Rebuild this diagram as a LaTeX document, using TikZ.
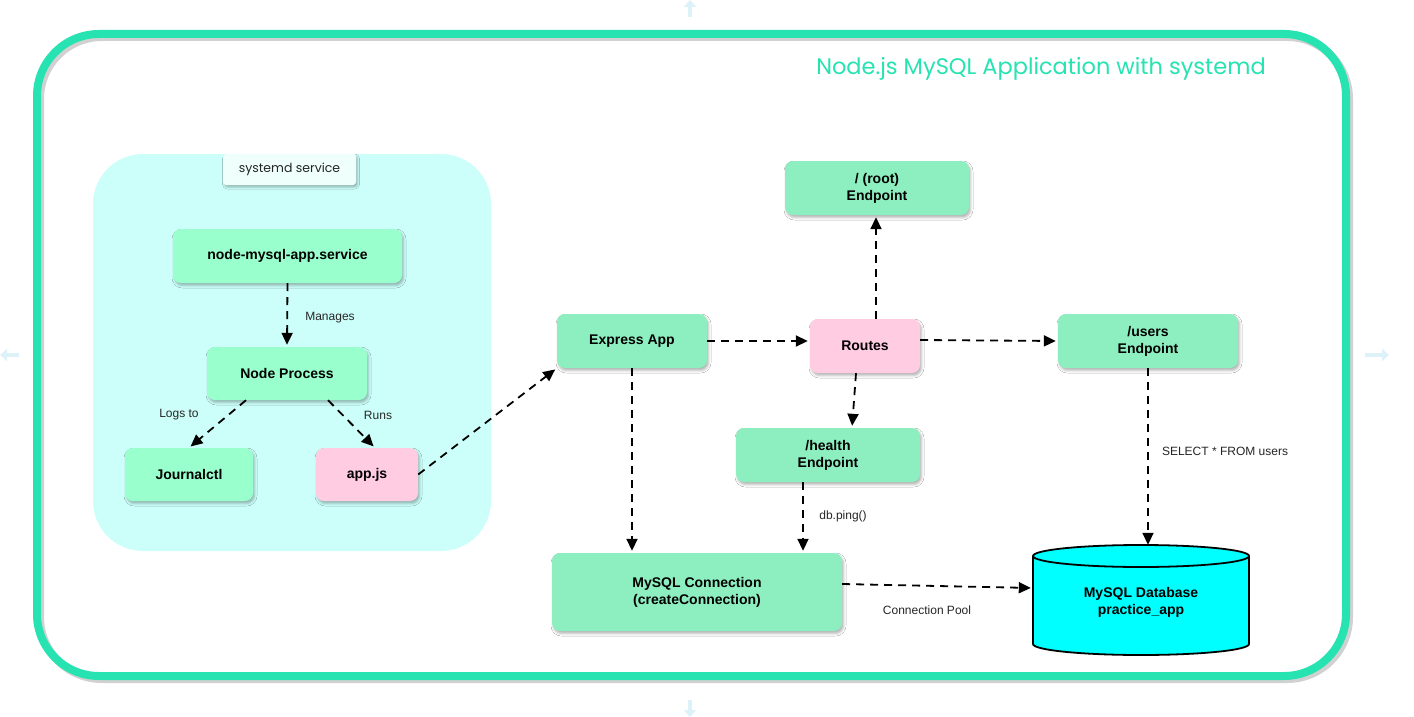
\documentclass[tikz,border=0pt]{standalone}
\usepackage{fontspec}
\setmainfont{Liberation Sans}
\newfontfamily\handfont{Poppins}
\usetikzlibrary{arrows.meta,shadows.blur,calc}
\definecolor{framec}{HTML}{27E3B1}
\definecolor{grpfill}{HTML}{CCFFFA}
\definecolor{lblfill}{HTML}{EEFFFC}
\definecolor{brightgreen}{HTML}{99FFCC}
\definecolor{softgreen}{HTML}{8DEEC0}
\definecolor{pinkfill}{HTML}{FFCCE2}
\definecolor{faintc}{HTML}{DDF1F8}
\definecolor{dbcyan}{HTML}{00FFFF}
\begin{document}
\begin{tikzpicture}[x=1pt,y=-1pt,
  box/.style={rectangle, rounded corners=8pt, draw=none, align=center,
    font=\fontsize{14}{17}\selectfont\bfseries, text=black, inner sep=0pt,
    blur shadow={shadow xshift=1.5pt,shadow yshift=-2.5pt,shadow blur radius=2.5pt,shadow opacity=30}},
  gbox/.style={box, fill=softgreen},
  bbox/.style={box, fill=brightgreen},
  pbox/.style={box, fill=pinkfill},
  flow/.style={draw=black, line width=1.8pt, dash pattern=on 8pt off 6pt,
    -{Triangle[length=12pt,width=11pt]}, shorten >=2pt},
  lbl/.style={font=\fontsize{12}{14}\selectfont, text=black!85, inner sep=0pt},
  faintarrow/.style={draw=faintc, line width=4pt, -{Triangle[length=7pt,width=12pt]}}
]
\useasboundingbox (0,0) rectangle (1414,717);
\fill[white] (0,0) rectangle (1414,717);

% faint hover arrows
\coordinate (tA) at (690,17); \coordinate (tB) at (690,0);
\coordinate (bA) at (690,700); \coordinate (bB) at (690,717);
\coordinate (lA) at (19,355); \coordinate (lB) at (0,355);
\coordinate (rA) at (1365,355); \coordinate (rB) at (1389,355);
\draw[faintarrow] (tA) -- (tB);
\draw[faintarrow] (bA) -- (bB);
\draw[faintarrow] (lA) -- (lB);
\draw[faintarrow] (rA) -- (rB);

% outer frame
\draw[black!18, line width=8pt, rounded corners=62pt] (40,37) rectangle (1349,679);
\draw[framec, line width=8pt, rounded corners=62pt] (37,34) rectangle (1346,676);
\node[font=\handfont\fontsize{22.5}{26}\selectfont, text=framec] (title) at (1041,69) {Node.js MySQL Application with systemd};

% systemd group
\node[rectangle, rounded corners=50pt, fill=grpfill, minimum width=398pt, minimum height=397pt, inner sep=0pt] (grp) at (292,352.5) {};
\node[rectangle, rounded corners=3pt, fill=lblfill, minimum width=133pt, minimum height=31pt, inner sep=0pt,
  font=\handfont\fontsize{12.5}{14}\selectfont, text=black!85,
  blur shadow={shadow xshift=1.5pt,shadow yshift=-2pt,shadow blur radius=2pt,shadow opacity=30}] (grplbl) at (289.5,169.5) {systemd service};

\node[bbox, minimum width=229pt, minimum height=54pt] (svc) at (287.5,256) {node-mysql-app.service};
\node[bbox, minimum width=160pt, minimum height=53pt] (proc) at (287,373.5) {Node Process};
\node[bbox, minimum width=128pt, minimum height=53pt] (journal) at (189,474.5) {Journalctl};
\node[pbox, minimum width=102pt, minimum height=53pt] (appjs) at (367,474.5) {app.js};

% right side
\node[gbox, minimum width=150pt, minimum height=54pt] (express) at (632,341) {Express App};
\node[pbox, minimum width=110pt, minimum height=54pt] (routes) at (865,346) {Routes};
\node[gbox, minimum width=184pt, minimum height=54pt] (root) at (877,188) {/ (root)\\Endpoint};
\node[gbox, minimum width=180pt, minimum height=54pt] (users) at (1148,341) {/users\\Endpoint};
\node[gbox, minimum width=184pt, minimum height=54pt] (health) at (828,455) {/health\\Endpoint};
\node[gbox, minimum width=290pt, minimum height=78pt] (conn) at (697,592) {MySQL Connection\\(createConnection)};

% database cylinder
\path[fill=dbcyan] (1033,556) -- (1033,644) arc[start angle=180, end angle=0, x radius=108, y radius=11] -- (1249,556) -- cycle;
\draw[black, line width=1.8pt] (1033,556) -- (1033,644) arc[start angle=180, end angle=0, x radius=108, y radius=11] -- (1249,556);
\draw[black, line width=1.8pt, fill=dbcyan] (1141,556) ellipse[x radius=108, y radius=11];
\node[font=\fontsize{14}{17}\selectfont\bfseries, text=black, align=center, minimum width=216pt, minimum height=110pt, inner sep=0pt] (db) at (1141,602) {MySQL Database\\practice\_app};

% connectors
\draw[flow] (svc.south) -- (proc.north);
\node[lbl] (lmanages) at (330,318) {Manages};
\draw[flow] ([xshift=-41pt]proc.south) -- (journal.north);
\node[lbl] (llogs) at (179,415) {Logs to};
\draw[flow] ([xshift=41pt]proc.south) -- ([xshift=8pt]appjs.north);
\node[lbl] (lruns) at (378,415) {Runs};
\draw[flow] (appjs.east) -- (express.south west);
\draw[flow] (express.east) -- (express.east -| routes.west);
\draw[flow] ([xshift=11pt]routes.north) -- ([xshift=11pt]routes.north |- root.south);
\draw[flow] ([yshift=6pt]routes.east) -- (users.west);
\draw[flow] ([xshift=-9pt]routes.south) -- ([xshift=24pt]health.north);
\draw[flow] (express.south) -- (express.south |- conn.north);
\draw[flow] ([xshift=-25pt]health.south) -- ([xshift=-25pt]health.south |- conn.north);
\node[lbl] (lping) at (843,516) {db.ping()};
\draw[flow] (users.south) -- (users.south |- db.north);
\node[lbl] (lselect) at (1225,451) {SELECT * FROM users};
\draw[flow] ([yshift=8pt]conn.east) -- ([yshift=14pt]db.west);
\node[lbl] (lpool) at (927,610) {Connection Pool};
\end{tikzpicture}
\end{document}
